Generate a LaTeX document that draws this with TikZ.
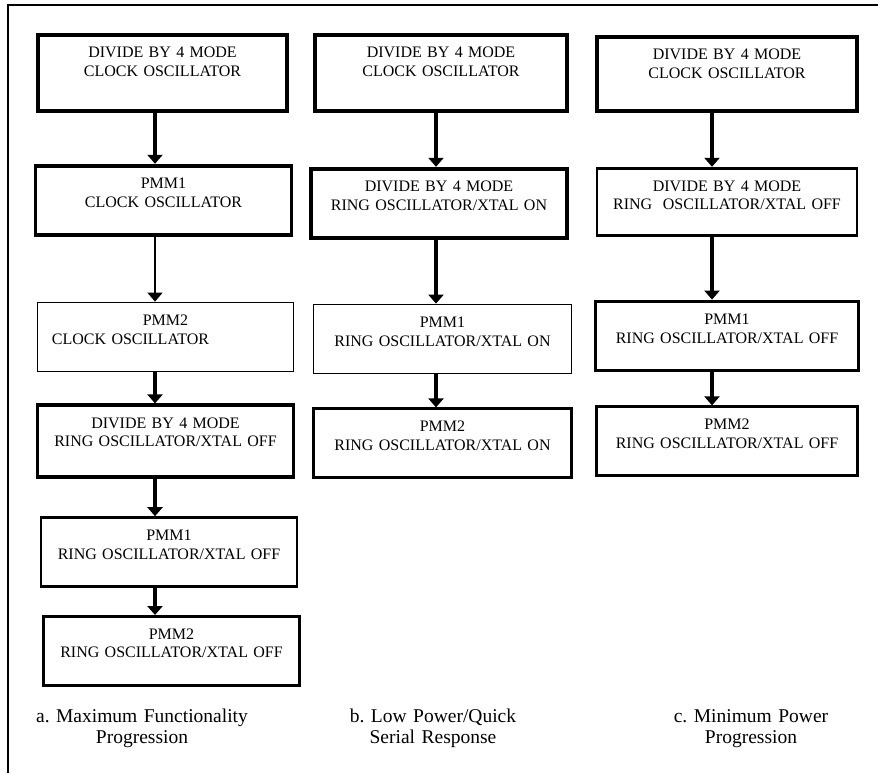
\documentclass[tikz,border=0pt]{standalone}
\usepackage{fontspec}
\setmainfont{Liberation Serif}
\usepackage{tikz}
\usetikzlibrary{positioning,arrows.meta}
\frenchspacing

\begin{document}
\begin{tikzpicture}[
      x=0.5pt, y=-0.5pt,
      box/.style={draw, rectangle, inner sep=0pt, align=center, text width=122pt,
                  minimum width=128pt, text height=11.5pt, text depth=23pt,
                  line width=1.9pt, font=\fontsize{8}{9.25}\selectfont},
      midbox/.style={line width=1.4pt},
      thinbox/.style={line width=0.9pt},
      arrow/.style={-{Triangle[width=7.5pt,length=4.5pt]}, line width=1.75pt},
      caption/.style={anchor=base, align=center, text width=140pt, inner sep=0pt,
                  font=\fontsize{9.75}{10.5}\selectfont},
    ]
    \useasboundingbox (0,0) rectangle (878,773);
    \draw[line width=1pt] (878,5) -- (7.5,5) -- (7.5,773);

    \node[box, minimum width=124.5pt, text depth=26.5pt, anchor=north] (a1) at (162.5,33) {DIVIDE BY 4 MODE\\CLOCK OSCILLATOR};
    \node[box, below=25.5pt of a1, xshift=0.5pt] (a2) {PMM1\\CLOCK OSCILLATOR};
    \node[box, thinbox, below=32.5pt of a2, xshift=1pt] (a3) {PMM2\\\hspace*{-35pt}CLOCK OSCILLATOR};
    \node[box, text depth=24.5pt, below=15.5pt of a3] (a4) {DIVIDE BY 4 MODE\\RING OSCILLATOR/XTAL OFF};
    \node[box, midbox, below=18.5pt of a4, xshift=1.75pt] (a5) {PMM1\\RING OSCILLATOR/XTAL OFF};
    \node[box, midbox, below=13.5pt of a5, xshift=1.25pt] (a6) {PMM2\\RING OSCILLATOR/XTAL OFF};

    \node[box, minimum width=126pt, text depth=26.5pt, anchor=north] (b1) at (441,33) {DIVIDE BY 4 MODE\\CLOCK OSCILLATOR};
    \node[box, below=27pt of b1, xshift=-1pt] (b2) {DIVIDE BY 4 MODE\\RING OSCILLATOR/XTAL ON};
    \node[box, thinbox, minimum width=129pt, below=32pt of b2, xshift=1.75pt] (b3) {PMM1\\RING OSCILLATOR/XTAL ON};
    \node[box, midbox, minimum width=129pt, below=16.5pt of b3] (b4) {PMM2\\RING OSCILLATOR/XTAL ON};

    \node[box, minimum width=130pt, text depth=25.5pt, anchor=north] (c1) at (727,35) {DIVIDE BY 4 MODE\\CLOCK OSCILLATOR};
    \node[box, midbox, minimum width=130pt, text depth=22pt, below=27pt of c1] (c2) {DIVIDE BY 4 MODE\\RING~~OSCILLATOR/XTAL OFF};
    \node[box, minimum width=131.5pt, below=31.5pt of c2] (c3) {PMM1\\RING OSCILLATOR/XTAL OFF};
    \node[box, midbox, minimum width=130.5pt, below=16.5pt of c3] (c4) {PMM2\\RING OSCILLATOR/XTAL OFF};

    \node[caption] (capa) at (142,722) {a. Maximum Functionality\\Progression};
    \node[caption] (capb) at (433,722) {b. Low Power/Quick\\Serial Response};
    \node[caption] (capc) at (751,722) {c. Minimum Power\\Progression};

    \coordinate (xa) at (155,0);
    \coordinate (xb) at (436,0);
    \coordinate (xc) at (712,0);
    \draw[arrow] (a1.south -| xa) -- (a2.north -| xa);
    \draw[arrow, line width=0.8pt] (a2.south -| xa) -- (a3.north -| xa);
    \draw[arrow] (a3.south -| xa) -- (a4.north -| xa);
    \draw[arrow] (a4.south -| xa) -- (a5.north -| xa);
    \draw[arrow] (a5.south -| xa) -- (a6.north -| xa);
    \draw[arrow] (b1.south -| xb) -- (b2.north -| xb);
    \draw[arrow] (b2.south -| xb) -- (b3.north -| xb);
    \draw[arrow] (b3.south -| xb) -- (b4.north -| xb);
    \draw[arrow] (c1.south -| xc) -- (c2.north -| xc);
    \draw[arrow] (c2.south -| xc) -- (c3.north -| xc);
    \draw[arrow] (c3.south -| xc) -- (c4.north -| xc);
  \end{tikzpicture}
\end{document}
